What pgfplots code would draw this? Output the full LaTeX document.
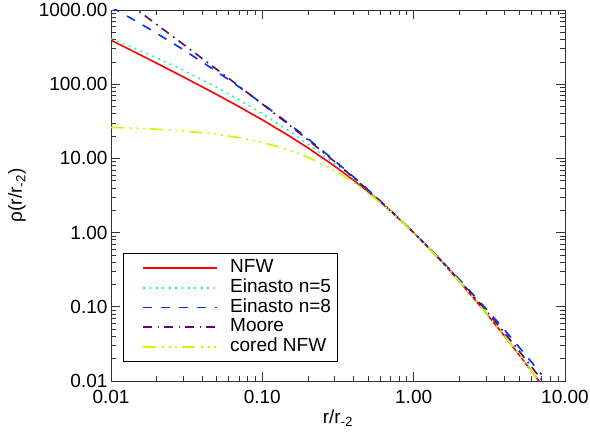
\documentclass[border=0pt]{standalone}
\usepackage{fontspec}
\setmainfont{Liberation Sans}
\usepackage{pgfplots}
\pgfplotsset{compat=1.18}
\definecolor{cnfw}{RGB}{255,0,0}
\definecolor{cfive}{RGB}{0,255,150}
\definecolor{ceight}{RGB}{0,50,255}
\definecolor{cmoore}{RGB}{95,10,110}
\definecolor{ccored}{RGB}{200,250,0}
\begin{document}
\begin{tikzpicture}
\useasboundingbox (-111pt,-54pt) rectangle (479pt,381pt);
\begin{axis}[
 scale only axis, width=454pt, height=371pt,
 xmode=log, ymode=log,
 xmin=0.01, xmax=10, ymin=0.01, ymax=1000,
 xtick={0.01,0.1,1,10}, xticklabels={0.01,0.10,1.00,10.00},
 ytick={0.01,0.1,1,10,100,1000}, yticklabels={0.01,0.10,1.00,10.00,100.00,1000.00},
 minor xtick={0.02,0.03,0.04,0.05,0.06,0.07,0.08,0.09,0.2,0.3,0.4,0.5,0.6,0.7,0.8,0.9,2,3,4,5,6,7,8,9},
 minor ytick={0.02,0.03,0.04,0.05,0.06,0.07,0.08,0.09,0.2,0.3,0.4,0.5,0.6,0.7,0.8,0.9,2,3,4,5,6,7,8,9,20,30,40,50,60,70,80,90,200,300,400,500,600,700,800,900},
 major tick length=9pt, minor tick length=5pt,
 every tick/.style={black!80, line width=0.7pt},
 axis line style={black!80, line width=0.8pt},
 tick label style={font=\fontsize{19}{19}\selectfont},
 xticklabel style={yshift=-6pt},
 xlabel={r/r\textsubscript{-2}}, ylabel={ρ(r/r\textsubscript{-2})},
 every axis x label/.style={at={(axis description cs:0.5,-0.1)}, anchor=center, font=\fontsize{19}{19}\selectfont},
 every axis y label/.style={at={(axis description cs:-0.207,0.5)}, anchor=center, rotate=90, font=\fontsize{19}{19}\selectfont},
 legend style={at={(axis description cs:0.0264,0.0512)}, anchor=south west, line width=0.8pt,
   inner xsep=6pt, inner ysep=6pt, font=\fontsize{19}{19}\selectfont, row sep=2.4pt, column sep=12pt,
   cells={anchor=west}, nodes={inner sep=0pt, text height=13.3pt, text depth=4pt}},
 legend cell align=left,
 legend image code/.code={\path (0pt,0pt); \draw[#1] (13pt,0pt) -- (87pt,0pt);},
]
\addlegendimage{draw=cnfw, line width=1.6pt}
\addlegendentry{NFW}
\addlegendimage{draw=cfive, line width=1.6pt, dash pattern=on 1.7pt off 4.7pt}
\addlegendentry{Einasto n=5}
\addlegendimage{draw=ceight, line width=1.8pt, dash pattern=on 9pt off 9pt}
\addlegendentry{Einasto n=8}
\addlegendimage{draw=cmoore, line width=1.6pt, dash pattern=on 9pt off 5.3pt on 1.7pt off 5pt}
\addlegendentry{Moore}
\addlegendimage{draw=ccored, line width=1.6pt, dash pattern=on 13pt off 5.7pt on 2pt off 4.7pt on 2pt off 4.7pt on 2pt off 5pt}
\addlegendentry{cored NFW}
\addplot[forget plot, draw=cnfw, line width=1.6pt] coordinates {
(0.01,392.1)(0.015,258.8)(0.02,192.2)(0.03,125.7)(0.05,72.56)(0.07,49.91)(0.1,33.06)(0.15,20.16)(0.2,13.89)(0.3,7.890)(0.4,5.102)(0.5,3.556)(0.7,1.977)(1,1.000)(1.5,0.4267)(2,0.2222)(3,0.08333)(4,0.04)(5,0.02222)(6,0.01361)(7,0.008929)};
\addplot[forget plot, draw=cfive, line width=1.6pt, dash pattern=on 1.7pt off 4.7pt] coordinates {
(0.01,411.1)(0.015,293.7)(0.02,227.4)(0.03,154.6)(0.05,90.67)(0.07,61.86)(0.1,40.06)(0.15,23.51)(0.2,15.68)(0.3,8.499)(0.4,5.336)(0.5,3.649)(0.7,1.991)(1,1.000)(1.5,0.4296)(2,0.2261)(3,0.08567)(4,0.04096)(5,0.02243)(6,0.01344)(7,0.008586)};
\addplot[forget plot, draw=ceight, line width=1.6pt, dash pattern=on 9.3pt off 9pt] coordinates {
(0.01,1099.5)(0.015,688.6)(0.02,487.0)(0.03,292.4)(0.05,148.0)(0.07,92.30)(0.1,54.69)(0.15,29.31)(0.2,18.46)(0.3,9.351)(0.4,5.649)(0.5,3.774)(0.7,2.009)(1,1.000)(1.5,0.4352)(2,0.2350)(3,0.09486)(4,0.04844)(5,0.02829)(6,0.01801)(7,0.01220)};
\addplot[forget plot, draw=cmoore, line width=1.6pt, dash pattern=on 9pt off 5.3pt on 1.7pt off 5pt] coordinates {
(0.01,1823.4)(0.015,988.9)(0.02,639.9)(0.03,345.7)(0.05,158.3)(0.07,94.21)(0.1,53.99)(0.15,28.37)(0.2,17.80)(0.3,9.066)(0.4,5.524)(0.5,3.718)(0.7,2.000)(1,1.000)(1.5,0.4320)(2,0.2296)(3,0.08944)(4,0.04419)(5,0.02509)(6,0.01563)(7,0.01039)};
\addplot[forget plot, draw=ccored, line width=1.6pt, dash pattern=on 13pt off 5.7pt on 2pt off 4.7pt on 2pt off 4.7pt on 2pt off 5pt] coordinates {
(0.01,26.13)(0.015,25.44)(0.02,24.76)(0.03,23.49)(0.05,21.16)(0.07,19.11)(0.1,16.47)(0.15,13.00)(0.2,10.39)(0.3,6.893)(0.4,4.779)(0.5,3.443)(0.7,1.961)(1,0.999)(1.5,0.4267)(2,0.2222)(3,0.08333)(4,0.04)(5,0.02222)(6,0.01361)(7,0.008929)};
\end{axis}
\end{tikzpicture}
\end{document}
